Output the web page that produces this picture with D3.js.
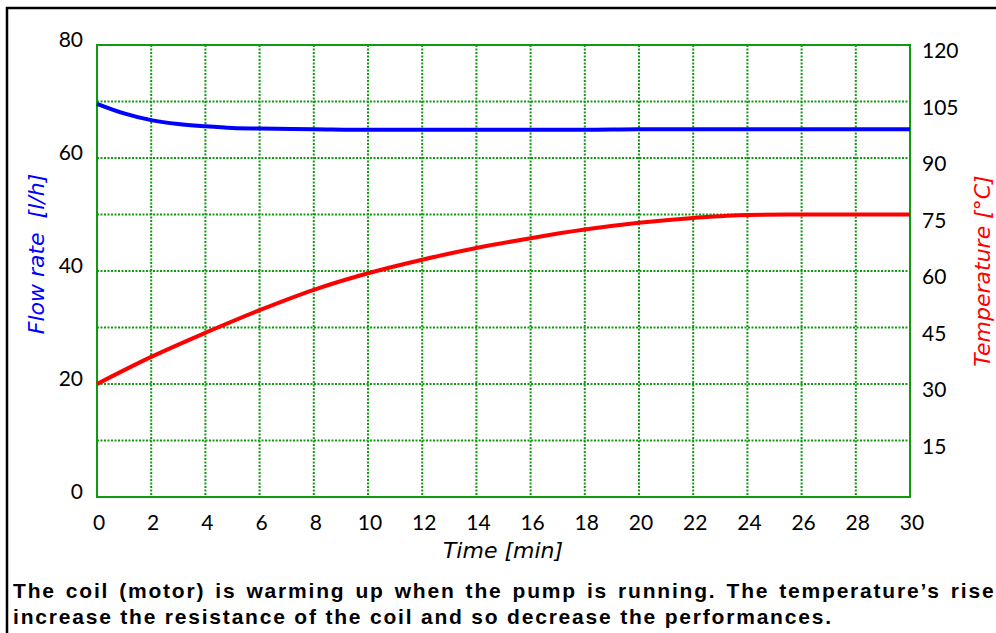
<!DOCTYPE html>
<html lang="en">
<head>
  <meta charset="UTF-8">
  <title>Flow rate and temperature vs time</title>
  <script src="https://d3js.org/d3.v7.min.js"></script>
  <style>
    body { margin: 0; background: #fff; }
    svg { display: block; }
    .tick-label { font-family: Lato, "Open Sans", sans-serif; font-size: 21px; fill: #000; }
    .axis-title { font-family: "DejaVu Sans", sans-serif; font-size: 22px; font-style: italic; }
    .caption { font-family: "Liberation Sans", Arial, sans-serif; font-size: 21px; font-weight: bold; letter-spacing: 1.8px; fill: #000; }
    .grid { stroke: #109a10; stroke-width: 2; stroke-dasharray: 2,1.5; }
  </style>
</head>
<body>
  <svg width="996" height="633"></svg>

  <script>
    // data
    const flowTime = [0, 1, 2, 3, 4, 5, 6, 8, 10, 12, 14, 16, 18, 20, 22, 24, 26, 28, 30];
    const flowRate = [69.6, 67.9, 66.7, 66.0, 65.6, 65.3, 65.2, 65.1, 65.0, 65.0, 65.0, 65.0, 65.0, 65.1, 65.1, 65.1, 65.1, 65.1, 65.1];
    const tempTime = [0, 2, 4, 6, 8, 10, 12, 14, 16, 18, 20, 22, 24, 26, 28, 30];
    const temperature = [30, 37.2, 43.6, 49.6, 55, 59.4, 63.0, 66.1, 68.7, 71.0, 72.8, 74.1, 74.9, 75, 75, 75];

    const timeTicks = d3.range(0, 31, 2);
    const flowTicks = [0, 20, 40, 60, 80];
    const flowGrid = d3.range(10, 80, 10);
    const tempTicks = [15, 30, 45, 60, 75, 90, 105, 120];

    const captionLines = [
      "The coil (motor) is warming up when the pump is running. The temperature\u2019s rise",
      "increase the resistance of the coil and so decrease the performances."
    ];

    const svg = d3.select("svg");
    const pLeft = 97, pRight = 910, pTop = 45, pBottom = 497;

    const x = d3.scaleLinear().domain([0, 30]).range([pLeft, pRight]);
    const yFlow = d3.scaleLinear().domain([0, 80]).range([pBottom, pTop]);
    const yTemp = d3.scaleLinear().domain([0, 120]).range([pBottom, pTop]);

    // outer frame (only left and top edges visible)
    svg.append("path")
      .attr("d", "M7,633 V8 H996")
      .attr("fill", "none")
      .attr("stroke", "#000")
      .attr("stroke-width", 2.5);

    // grid
    const grid = svg.append("g");
    grid.selectAll(".vg")
      .data(timeTicks.filter(d => d > 0 && d < 30))
      .enter().append("line")
      .attr("class", "grid")
      .attr("x1", d => x(d)).attr("x2", d => x(d))
      .attr("y1", pTop).attr("y2", pBottom);
    grid.selectAll(".hg")
      .data(flowGrid)
      .enter().append("line")
      .attr("class", "grid")
      .attr("x1", pLeft).attr("x2", pRight)
      .attr("y1", d => yFlow(d)).attr("y2", d => yFlow(d));

    svg.append("rect")
      .attr("x", pLeft).attr("y", pTop)
      .attr("width", pRight - pLeft).attr("height", pBottom - pTop)
      .attr("fill", "none")
      .attr("stroke", "#109a10")
      .attr("stroke-width", 2);

    // tick labels
    svg.selectAll(".fl")
      .data(flowTicks)
      .enter().append("text")
      .attr("class", "tick-label")
      .attr("x", 83)
      .attr("y", d => yFlow(d) + 2)
      .attr("text-anchor", "end")
      .text(d => d);

    svg.selectAll(".tl")
      .data(tempTicks)
      .enter().append("text")
      .attr("class", "tick-label")
      .attr("x", 922)
      .attr("y", d => yTemp(d) + 13)
      .text(d => d);

    svg.selectAll(".xl")
      .data(timeTicks)
      .enter().append("text")
      .attr("class", "tick-label")
      .attr("x", d => x(d) + 2)
      .attr("y", 530)
      .attr("text-anchor", "middle")
      .text(d => d);

    // axis titles
    svg.append("text")
      .attr("class", "axis-title")
      .attr("x", 503).attr("y", 558)
      .attr("text-anchor", "middle")
      .text("Time [min]");

    svg.append("text")
      .attr("class", "axis-title")
      .attr("transform", "translate(44,254) rotate(-90)")
      .attr("text-anchor", "middle")
      .attr("fill", "#0000ff")
      .attr("xml:space", "preserve")
      .text("Flow rate  [l/h]");

    svg.append("text")
      .attr("class", "axis-title")
      .attr("transform", "translate(990,271) rotate(-90)")
      .attr("text-anchor", "middle")
      .attr("fill", "#ff0000")
      .text("Temperature [\u00b0C]");

    // lines
    const flowLine = d3.line()
      .x((d, i) => x(flowTime[i]))
      .y(d => yFlow(d))
      .curve(d3.curveMonotoneX);
    const tempLine = d3.line()
      .x((d, i) => x(tempTime[i]))
      .y(d => yTemp(d))
      .curve(d3.curveMonotoneX);

    svg.append("path")
      .attr("d", tempLine(temperature))
      .attr("fill", "none")
      .attr("stroke", "#ff0000")
      .attr("stroke-width", 4);

    svg.append("path")
      .attr("d", flowLine(flowRate))
      .attr("fill", "none")
      .attr("stroke", "#0000ff")
      .attr("stroke-width", 4);

    // caption (first line is justified, so it runs to the right edge)
    svg.selectAll(".caption")
      .data(captionLines)
      .enter().append("text")
      .attr("class", "caption")
      .attr("x", 13)
      .attr("y", (d, i) => 598 + i * 26)
      .attr("word-spacing", (d, i) => i === 0 ? 2.4 : 0)
      .text(d => d);
  </script>
</body>
</html>
